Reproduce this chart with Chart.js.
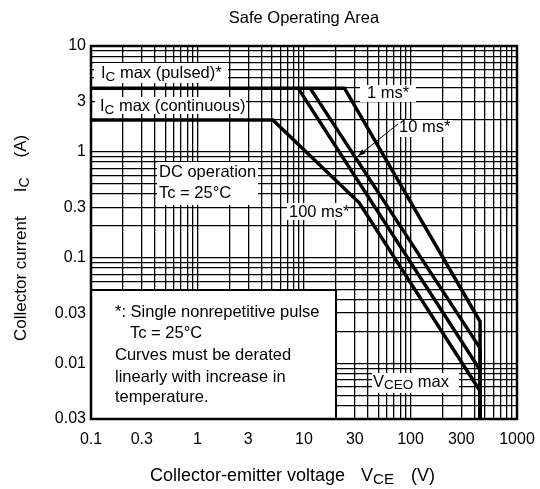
<!DOCTYPE html>
<html>
<head>
<meta charset="utf-8">
<script src="https://cdn.jsdelivr.net/npm/chart.js@4/dist/chart.umd.min.js"></script>
<style>
html,body{margin:0;padding:0;background:#fff;}
#wrap{width:540px;height:489px;}
</style>
</head>
<body>
<div id="wrap"><canvas id="c" width="540" height="489"></canvas></div>
<script>
// ---- data ----
const xTickValues = [0.1, 0.3, 1, 3, 10, 30, 100, 300, 1000];
const xTickLabels = ['0.1', '0.3', '1', '3', '10', '30', '100', '300', '1000'];
const yTickValues = [0.003, 0.01, 0.03, 0.1, 0.3, 1, 3, 10];
const yTickLabels = ['0.03', '0.01', '0.03', '0.1', '0.3', '1', '3', '10'];

const curve1ms   = [{x:0.1,y:4},{x:24,y:4},{x:450,y:0.025},{x:450,y:0.003}];
const curve10ms  = [{x:11.4,y:4},{x:450,y:0.014},{x:450,y:0.003}];
const curve100ms = [{x:8.8,y:4},{x:450,y:0.0087},{x:450,y:0.003}];
const curveDC    = [{x:0.1,y:2},{x:5.1,y:2},{x:33,y:0.33},{x:450,y:0.0055},{x:450,y:0.003}];

function logGrid(minExp, maxExp, lo, hi){
  const out=[];
  for(let e=minExp;e<=maxExp;e++){
    for(let m=1;m<=9;m++){
      const v = parseFloat((m*Math.pow(10,e)).toPrecision(6));
      if(v>=lo*0.9999 && v<=hi*1.0001) out.push(v);
    }
  }
  return out;
}
const xGrid = logGrid(-1, 3, 0.1, 1000);
const yGrid = logGrid(-3, 1, 0.003, 10);

function lookup(vals, labels, v){
  for(let i=0;i<vals.length;i++){ if(Math.abs(vals[i]-v)/vals[i] < 1e-6) return labels[i]; }
  return '';
}

const FONT = '"Liberation Sans", Arial, Helvetica, sans-serif';

function rich(ctx, x, y, parts){
  let cx = x;
  for(const p of parts){
    ctx.font = (p.s||16.5) + 'px ' + FONT;
    ctx.fillText(p.t, cx, y + (p.dy||0));
    cx += ctx.measureText(p.t).width + (p.gap||0);
  }
  return cx;
}

const annot = {
  id:'annot',
  afterDatasetsDraw(chart){
    const ctx = chart.ctx;
    ctx.save();
    ctx.fillStyle='#fff';
    // white label boxes
    const boxes = [[94,63,134,20],[95,97,151,17],[157,162,101,43],[360,85,56,17],[397,120,56,17],[287,203,61,17],[372,373,87,20]];
    for(const b of boxes) ctx.fillRect(b[0],b[1],b[2],b[3]);
    // note box
    ctx.fillRect(91,290,245,129);
    ctx.strokeStyle='#000'; ctx.lineWidth=2;
    ctx.strokeRect(91,290,245,129);

    ctx.fillStyle='#000';
    ctx.textBaseline='middle';
    ctx.textAlign='left';
    rich(ctx,101,73,[{t:'I'},{t:'C',s:13.5,dy:4},{t:' max (pulsed)*'}]);
    rich(ctx,100,106,[{t:'I'},{t:'C',s:13.5,dy:4},{t:' max (continuous)'}]);
    rich(ctx,159,172,[{t:'DC operation'}]);
    rich(ctx,159,193,[{t:'Tc = 25°C'}]);
    rich(ctx,367,93,[{t:'1 ms*'}]);
    rich(ctx,399,127,[{t:'10 ms*'}]);
    rich(ctx,289,212,[{t:'100 ms*'}]);
    rich(ctx,373,382,[{t:'V'},{t:'CEO',s:13.5,dy:3},{t:' max'}]);
    // note
    rich(ctx,115,312,[{t:'*: Single nonrepetitive pulse'}]);
    rich(ctx,130,333,[{t:'Tc = 25°C'}]);
    rich(ctx,115,355,[{t:'Curves must be derated'}]);
    rich(ctx,115,377,[{t:'linearly with increase in'}]);
    rich(ctx,115,397,[{t:'temperature.'}]);

    // arrow for 10 ms
    ctx.strokeStyle='#000'; ctx.lineWidth=1;
    const ax0=398, ay0=124, ax1=358, ay1=156;
    ctx.beginPath(); ctx.moveTo(ax0,ay0); ctx.lineTo(ax1,ay1); ctx.stroke();
    const ang=Math.atan2(ay1-ay0, ax1-ax0);
    ctx.beginPath();
    ctx.moveTo(ax1,ay1);
    ctx.lineTo(ax1-8*Math.cos(ang-0.35), ay1-8*Math.sin(ang-0.35));
    ctx.lineTo(ax1-8*Math.cos(ang+0.35), ay1-8*Math.sin(ang+0.35));
    ctx.closePath(); ctx.fill();
    ctx.restore();
  },
  afterDraw(chart){
    const ctx=chart.ctx, a=chart.chartArea;
    ctx.save();
    ctx.strokeStyle='#000'; ctx.lineWidth=2.5;
    ctx.strokeRect(a.left, a.top, a.right-a.left, a.bottom-a.top);
    ctx.fillStyle='#000';
    ctx.textBaseline='middle';
    // title
    ctx.font='16.5px '+FONT; ctx.textAlign='center';
    ctx.fillText('Safe Operating Area', 304, 18);
    ctx.textAlign='left';
    // x title
    rich(ctx,150,476,[{t:'Collector-emitter voltage',s:18,gap:16},{t:'V',s:18},{t:'CE',s:15,dy:4,gap:17},{t:'(V)',s:18}]);
    // y title
    ctx.save();
    ctx.translate(21,341); ctx.rotate(-Math.PI/2);
    rich(ctx,0,0,[{t:'Collector current',s:17,gap:24},{t:'I',s:17},{t:'C',s:14,dy:4,gap:20},{t:'(A)',s:17}]);
    ctx.restore();
    ctx.restore();
  }
};

const lineDS = (data) => ({data, borderColor:'#000', borderWidth:3.5, pointRadius:0, tension:0, fill:false, borderJoinStyle:'miter'});

new Chart(document.getElementById('c'), {
  type:'line',
  data:{ datasets:[lineDS(curve1ms), lineDS(curve10ms), lineDS(curve100ms), lineDS(curveDC)] },
  options:{
    responsive:false, animation:false, devicePixelRatio:1,
    parsing:false,
    layout:{padding:{left:0, top:46, right:23, bottom:0}},
    plugins:{legend:{display:false}, tooltip:{enabled:false}},
    scales:{
      x:{
        type:'logarithmic', min:0.1, max:1000,
        afterBuildTicks:(s)=>{ s.ticks = xGrid.map(v=>({value:v})); },
        afterFit:(s)=>{ s.height = 70; s.paddingLeft = 0; s.paddingRight = 0; },
        grid:{color:'#000', lineWidth:1.3, drawTicks:false},
        border:{display:false},
        ticks:{autoSkip:false, maxRotation:0, minRotation:0, padding:11, color:'#000',
          font:{family:FONT, size:16},
          callback:(v)=>lookup(xTickValues,xTickLabels,v)}
      },
      y:{
        type:'logarithmic', min:0.003, max:10,
        afterBuildTicks:(s)=>{ s.ticks = yGrid.map(v=>({value:v})); },
        afterFit:(s)=>{ s.width = 91; s.paddingTop = 0; s.paddingBottom = 0; },
        grid:{color:'#000', lineWidth:1.3, drawTicks:false},
        border:{display:false},
        ticks:{autoSkip:false, padding:5, color:'#000',
          font:{family:FONT, size:16},
          callback:(v)=>lookup(yTickValues,yTickLabels,v)}
      }
    }
  },
  plugins:[annot]
});
</script>
</body>
</html>
